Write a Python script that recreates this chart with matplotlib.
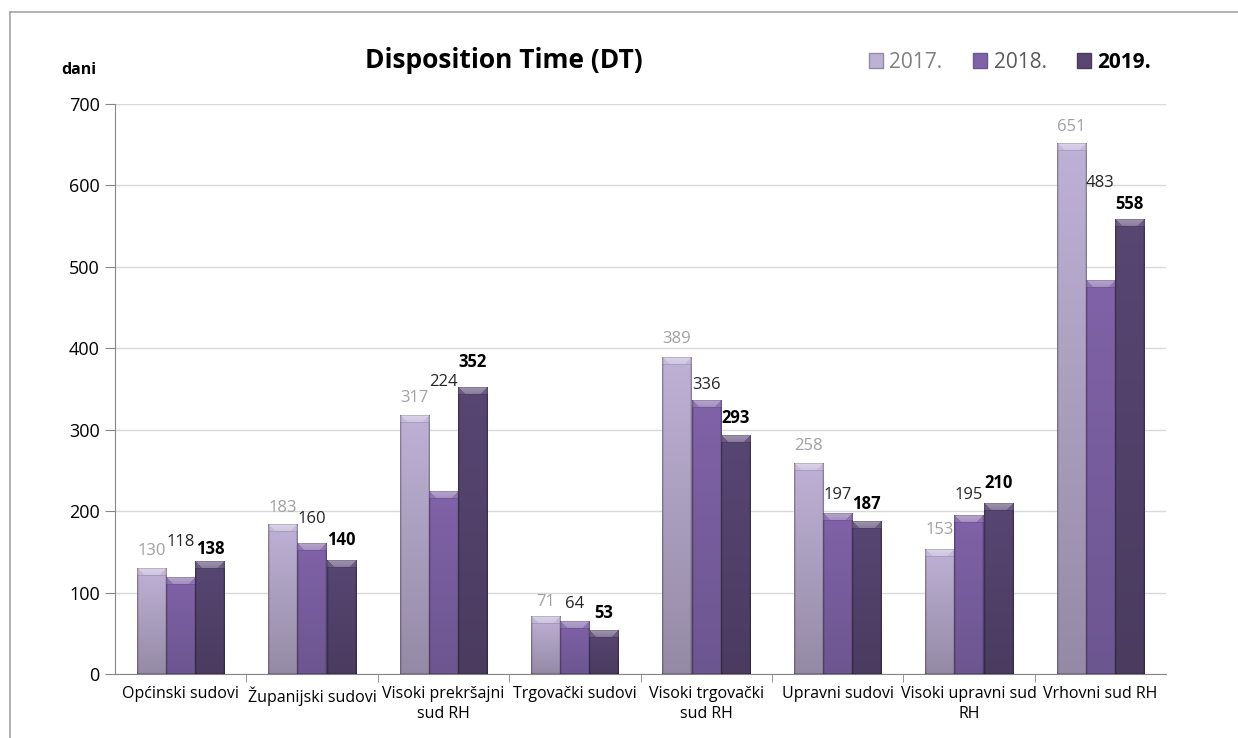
import numpy as np
import matplotlib
matplotlib.use("Agg")
import matplotlib.pyplot as plt
from matplotlib.lines import Line2D
from matplotlib.patches import Patch
from matplotlib.colors import to_rgb

plt.rcParams['font.family'] = ['Open Sans', 'DejaVu Sans']

categories = ["Općinski sudovi", "Županijski sudovi", "Visoki prekršajni\nsud RH",
              "Trgovački sudovi", "Visoki trgovački\nsud RH", "Upravni sudovi",
              "Visoki upravni sud\nRH", "Vrhovni sud RH"]
series_names = ["2017.", "2018.", "2019."]
v2017 = [130, 183, 317, 71, 389, 258, 153, 651]
v2018 = [118, 160, 224, 64, 336, 197, 195, 483]
v2019 = [138, 140, 352, 53, 293, 187, 210, 558]
yticks = [0, 100, 200, 300, 400, 500, 600, 700]

# label offsets above bar top (pixels)
label_off = [[17, 17, 18, 14, 18, 18, 19, 17],
             [36, 25, 110, 18, 15, 19, 20, 98],
             [13, 20, 25, 18, 17, 18, 20, 16]]

colors_top = ["#beb1d6", "#8062a8", "#584673"]
colors_bot = ["#958aa5", "#6c5690", "#4a3b5f"]
label_colors = ["#a0a0a0", "#262626", "#000000"]
label_weights = ["normal", "normal", "bold"]

W, H = 1238, 738
fig = plt.figure(figsize=(W / 100, H / 100), dpi=100)
ax = fig.add_axes([115 / W, 1 - 674 / H, (1166 - 115) / W, (674 - 104) / H])

x = np.arange(len(categories))
bw = 0.222
ax.set_xlim(-0.5, len(categories) - 0.5)
ax.set_ylim(0, 700)

# frame lines of the chart area
fig.add_artist(Line2D([10 / W, 1.0], [1 - 12 / H, 1 - 12 / H], color="#a6a6a6", lw=1.2))
fig.add_artist(Line2D([10 / W, 10 / W], [0, 1 - 12 / H], color="#a6a6a6", lw=1.2))

ax.set_yticks(yticks)
ax.yaxis.grid(True, color="#d9d9d9", lw=1)
ax.set_axisbelow(True)
for s in ["top", "right"]:
    ax.spines[s].set_visible(False)
ax.spines["left"].set_color("#868686")
ax.spines["bottom"].set_color("#868686")
ax.tick_params(axis="y", length=7, color="#868686", labelsize=13, labelcolor="#000000", pad=4)
ax.set_xticks(x)
ax.set_xticklabels(categories, fontsize=11.5, linespacing=1.3)
ax.tick_params(axis="x", length=0, pad=9)
ax.set_xticks(np.arange(0.5, len(categories) - 0.5, 1), minor=True)
ax.tick_params(axis="x", which="minor", length=6, color="#868686")

all_vals = [v2017, v2018, v2019]
for i, vals in enumerate(all_vals):
    offs = (i - 1) * bw
    bars = ax.bar(x + offs, vals, bw, color=colors_top[i], edgecolor="none",
                  label=series_names[i], zorder=2)
    for j, b in enumerate(bars):
        x0, y0 = b.get_x(), b.get_y()
        x1, y1 = x0 + b.get_width(), y0 + b.get_height()
        (px0, py0), (px1, py1) = ax.transData.transform([(x0, y0), (x1, y1)])
        wpx = max(int(round(px1 - px0)), 2)
        hpx = max(int(round(py1 - py0)), 2)
        top = np.array(to_rgb(colors_top[i]))
        bot = np.array(to_rgb(colors_bot[i]))
        t = np.linspace(0, 1, hpx)[:, None, None]  # 0 top -> 1 bottom
        img = top[None, None, :] * (1 - t) + bot[None, None, :] * t
        img = np.repeat(img, wpx, axis=1)
        # side edges (thin darker outline)
        img[:, 0, :] *= 0.72
        img[:, 1, :] *= 0.9
        img[:, wpx - 1, :] *= 0.72
        img[:, wpx - 2, :] *= 0.9
        # top bevel: light trapezoid
        bev = min(7, hpx // 2)
        for r in range(bev):
            lo, hi = r + 1, wpx - r - 1
            seg = img[r, lo:hi, :]
            img[r, lo:hi, :] = seg + (1 - seg) * (0.42 - 0.02 * r)
            img[r, :lo, :] = img[r, :lo, :] + (1 - img[r, :lo, :]) * 0.12
            img[r, hi:, :] = img[r, hi:, :] + (1 - img[r, hi:, :]) * 0.12
        if bev < hpx:
            img[bev, 1:-1, :] *= 0.9
        img[0, :, :] *= 0.85
        img[-1, :, :] *= 0.8
        img = np.clip(img, 0, 1)
        ax.imshow(img, extent=(x0, x1, y0, y1), aspect="auto", zorder=3,
                  interpolation="nearest", origin="upper")
        ax.annotate(str(vals[j]), (b.get_x() + b.get_width() / 2, y1),
                    xytext=(0, label_off[i][j] * 0.72), textcoords="offset points",
                    ha="center", va="center", fontsize=12, color=label_colors[i],
                    fontweight=label_weights[i], zorder=5)

ax.set_xlim(-0.5, len(categories) - 0.5)
ax.set_ylim(0, 700)

fig.text(504 / W, 1 - 61 / H, "Disposition Time (DT)", ha="center", va="center",
         fontsize=19, fontweight="bold", color="#000000")
fig.text(79 / W, 1 - 70 / H, "dani", ha="center", va="center", fontsize=11.5,
         fontweight="bold", color="#000000")

handles = [Patch(facecolor=colors_top[k], edgecolor=colors_bot[k]) for k in range(3)]
leg = fig.legend(handles, series_names, loc="center", bbox_to_anchor=(1010 / W, 1 - 62 / H),
                 ncol=3, frameon=False, fontsize=15, handlelength=0.7, handleheight=0.7,
                 handletextpad=0.3, columnspacing=1.45)
tcols = ["#7f7f7f", "#595959", "#000000"]
for k, txt in enumerate(leg.get_texts()):
    txt.set_color(tcols[k])
    if k == 2:
        txt.set_fontweight("bold")

fig.savefig("out.png", dpi=100)
